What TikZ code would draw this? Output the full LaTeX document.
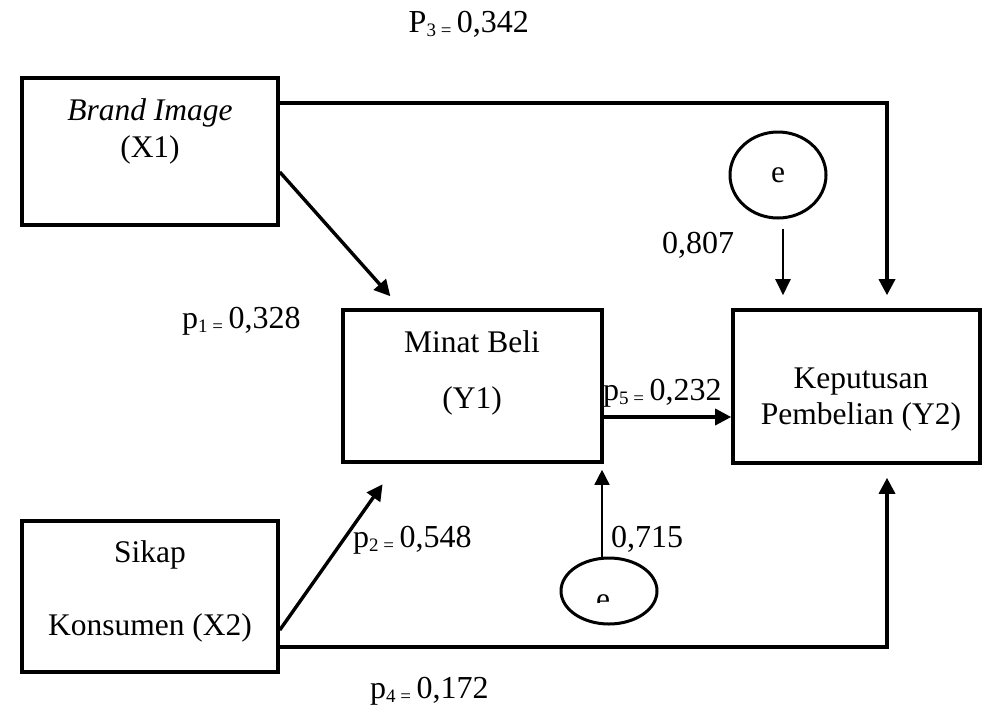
\documentclass[tikz,border=0pt]{standalone}
\usepackage{fontspec}
\setmainfont{Liberation Serif}
\usetikzlibrary{arrows.meta,shapes.geometric}
\newcommand{\lowsub}[1]{\raisebox{-4pt}{\fontsize{19}{19}\selectfont #1}}
\begin{document}
\begin{tikzpicture}[x=1pt,y=-1pt,
  box/.style={draw, rectangle, line width=3.6pt, inner sep=0pt},
  txt/.style={font=\fontsize{31.5}{37}\selectfont, inner sep=0pt, anchor=base},
  lbl/.style={font=\fontsize{32}{37}\selectfont, inner sep=0pt, anchor=base west},
  arr/.style={line width=3.4pt, -{Triangle[length=16pt,width=16pt]}},
  thinarr/.style={line width=2.2pt, -{Triangle[length=16pt,width=15pt]}},
  hairarr/.style={line width=1.6pt, -{Triangle[length=15pt,width=15pt]}},
  errnode/.style={draw, ellipse, line width=3pt, inner sep=0pt}]
\useasboundingbox (0,0) rectangle (984,705);

% boxes
\node[box, minimum width=256pt, minimum height=147pt] (bi) at (150,151.5) {};
\node[box, minimum width=259pt, minimum height=152pt] (mb) at (472.5,386) {};
\node[box, minimum width=247pt, minimum height=153pt] (kp) at (856.5,386.5) {};
\node[box, minimum width=256pt, minimum height=151pt] (sk) at (150,596.5) {};

% box texts
\node[txt] (bi1) at (150,120) {\textit{Brand Image}};
\node[txt] (bi2) at (150,157) {(X1)};
\node[txt] (mb1) at (472,352) {Minat Beli};
\node[txt] (mb2) at (472,408) {(Y1)};
\node[txt] (kp1) at (861,388) {Keputusan};
\node[txt] (kp2) at (861,424) {Pembelian (Y2)};
\node[txt] (sk1) at (150,562) {Sikap};
\node[txt] (sk2) at (150,635) {Konsumen (X2)};

% error terms
\node[errnode, minimum width=96pt, minimum height=86pt, font=\fontsize{31.5}{37}\selectfont] (e1) at (778,175) {e};
\node[errnode, minimum width=96pt, minimum height=66pt] (e2) at (609,591) {};
\begin{scope}
  \clip (560,560) rectangle (660,602);
  \node[txt] (e2t) at (603,609) {e};
\end{scope}

% connectors
\draw[arr] (bi.east |- 0,103) -| (kp.north -| 887,0) [shorten >=13pt];
\draw[arr, shorten >=16pt] (bi.east |- 0,172) -- (mb.north -| 401,0);
\draw[thinarr, shorten <=9pt, shorten >=13pt] (e1.south -| 783,0) -- (kp.north -| 783,0);
\draw[arr] (mb.east |- 0,417) -- (kp.west |- 0,417);
\draw[hairarr, shorten >=6pt] (e2.north -| 602,0) -- (mb.south -| 602,0);
\draw[arr, shorten >=25pt] (sk.east |- 0,630) -- (mb.south -| 397,0);
\draw[arr, shorten >=13pt] (sk.east |- 0,647) -| (kp.south -| 887,0);

% path coefficients
\node[lbl, anchor=base east] (p3) at (529,32) {P\lowsub{3 =}\,0,342};
\node[lbl] (p1) at (182,328) {p\lowsub{1 =}\,0,328};
\node[lbl] (c807) at (662,253) {0,807};
\node[lbl] (p5) at (603,400) {p\lowsub{5 =}\,0,232};
\node[lbl] (p2) at (353,547) {p\lowsub{2 =}\,0,548};
\node[lbl] (c715) at (611,547) {0,715};
\node[lbl] (p4) at (370,698) {p\lowsub{4 =}\,0,172};
\end{tikzpicture}
\end{document}
